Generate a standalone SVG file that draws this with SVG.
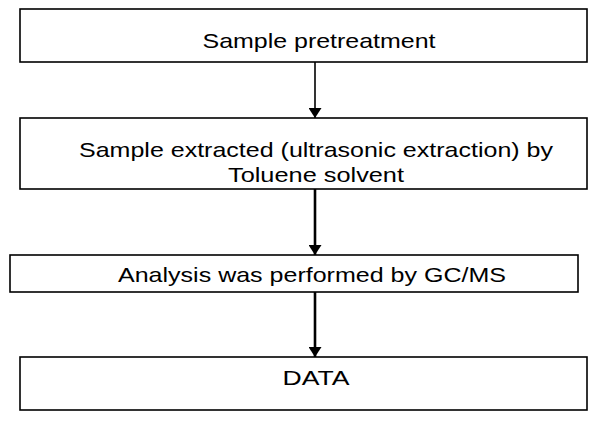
<svg xmlns="http://www.w3.org/2000/svg" width="606" height="432" viewBox="0 0 606 432">
<defs>
<style>
.box{fill:#fff;stroke:#000;stroke-width:1.6}
.t{font-family:"Liberation Sans",Arial,sans-serif;font-size:21px;fill:#000;text-anchor:middle}
.c{stroke:#000;fill:none}
</style>
<marker id="ah" viewBox="0 0 10 13" refX="10" refY="6.5" markerWidth="10" markerHeight="13" markerUnits="userSpaceOnUse" orient="auto">
<path d="M0,0 L10,6.5 L0,13 Z" fill="#000"/>
</marker>
</defs>
<rect width="606" height="432" fill="#fff"/>
<g id="connectors">
<line class="c" x1="315" y1="62" x2="315" y2="118" stroke-width="1.6" marker-end="url(#ah)"/>
<line class="c" x1="315" y1="189" x2="315" y2="255" stroke-width="2.6" marker-end="url(#ah)"/>
<line class="c" x1="315" y1="292" x2="315" y2="357" stroke-width="2.6" marker-end="url(#ah)"/>
</g>
<g id="node1">
<rect class="box" x="20" y="9" width="567" height="53"/>
<text class="t" x="319" y="48" textLength="233" lengthAdjust="spacingAndGlyphs">Sample pretreatment</text>
</g>
<g id="node2">
<rect class="box" x="20" y="118" width="567" height="71"/>
<text class="t" x="316" y="157" textLength="474" lengthAdjust="spacingAndGlyphs">Sample extracted (ultrasonic extraction) by</text>
<text class="t" x="316" y="182" textLength="176" lengthAdjust="spacingAndGlyphs">Toluene solvent</text>
</g>
<g id="node3">
<rect class="box" x="10" y="255" width="568" height="37"/>
<text class="t" x="312" y="282" textLength="388" lengthAdjust="spacingAndGlyphs">Analysis was performed by GC/MS</text>
</g>
<g id="node4">
<rect class="box" x="20" y="357" width="567" height="53"/>
<text class="t" x="316" y="385" textLength="67" lengthAdjust="spacingAndGlyphs">DATA</text>
</g>
</svg>
